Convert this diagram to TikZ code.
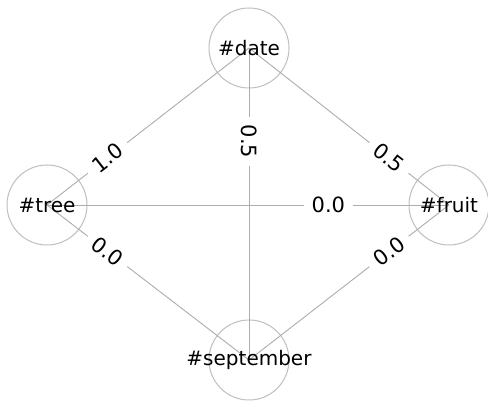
\documentclass[tikz,border=0pt]{standalone}
\usepackage{fontspec}
\setmainfont{DejaVu Sans}
\pgfdeclarelayer{back}
\pgfsetlayers{back,main}
\begin{document}
\begin{tikzpicture}[x=1pt,y=1pt,
  vertex/.style={inner sep=0pt, font=\fontsize{20}{24}\selectfont},
  ring/.style={draw=black!25, line width=1pt},
  link/.style={draw=black!32, line width=0.9pt},
  weight/.style={fill=white, inner xsep=8pt, inner ysep=2pt, font=\fontsize{21}{25}\selectfont}]
  \useasboundingbox (0,0) rectangle (488,401);
  % vertices
  \node[vertex] (date)  at (249,353) {\#date};
  \node[vertex] (tree)  at (47,196)  {\#tree};
  \node[vertex] (fruit) at (449,196) {\#fruit};
  \node[vertex] (sept)  at (249,41)  {\#september};
  \begin{pgfonlayer}{back}
    \fill[white] (0,0) rectangle (488,401);
    % a fixed-size ring round each vertex
    \foreach \v in {date,tree,fruit,sept}
      \draw[ring] (\v.center) circle (40pt);
    % weighted edges, drawn centre to centre
    \draw[link] (date.center) -- node[weight, pos=0.7, rotate=37.9] {1.0} (tree.center);
    \draw[link] (date.center) -- node[weight, pos=0.7, rotate=-37.9] {0.5} (fruit.center);
    \draw[link] (date.center) -- node[weight, pos=0.3, rotate=-90] {0.5} (sept.center);
    \draw[link] (tree.center) -- node[weight, pos=0.7] {0.0} (fruit.center);
    \draw[link] (tree.center) -- node[weight, pos=0.3, rotate=-37.5] {0.0} (sept.center);
    \draw[link] (fruit.center) -- node[weight, pos=0.3, rotate=37.5] {0.0} (sept.center);
  \end{pgfonlayer}
\end{tikzpicture}
\end{document}
